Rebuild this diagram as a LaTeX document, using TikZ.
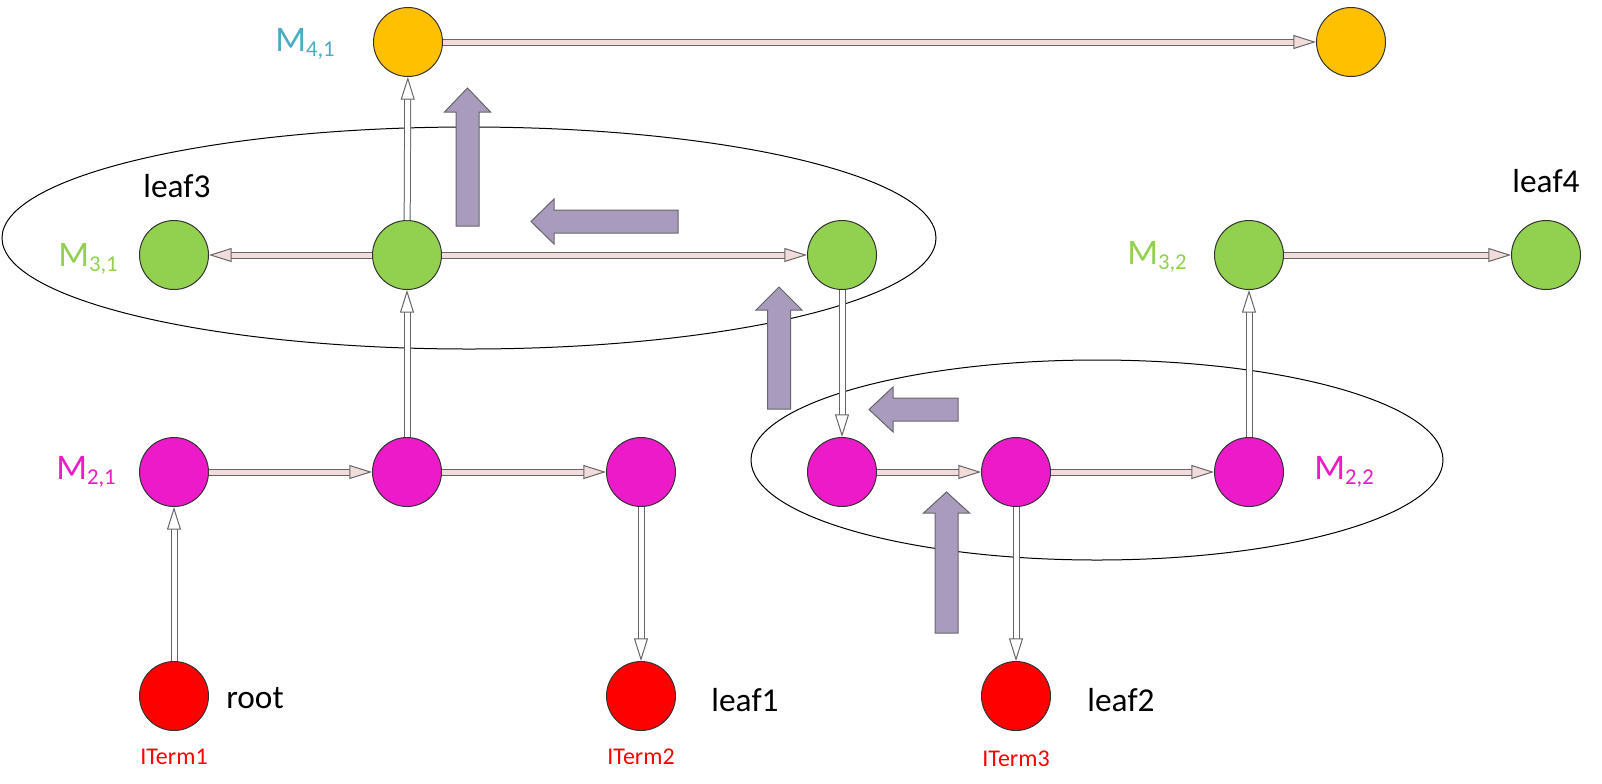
\documentclass[tikz,border=0pt]{standalone}
\usepackage{fontspec}
\setmainfont{Carlito}
\usetikzlibrary{arrows.meta, positioning}
\definecolor{gold}{HTML}{FFC000}
\definecolor{leafgreen}{HTML}{92D050}
\definecolor{mag}{HTML}{EC1AC8}
\definecolor{lav}{HTML}{A99BBD}
\definecolor{rose}{HTML}{F2DCDB}
\definecolor{mteal}{HTML}{4BACC6}
\newcommand\msub[1]{\raisebox{-0.3ex}{\fontsize{17}{20}\selectfont #1}}
\tikzset{
x=0.75pt, y=-0.75pt, % one unit is one pixel of the sketch
vertex/.style={circle, draw=black!80, line width=0.75pt, minimum size=51.75pt, inner sep=0pt}, % every round node
link/.style={draw=black!60, line width=0.75pt, double=#1, double distance=3.75pt, -{Triangle[open, fill=#1, length=17pt, width=10.5pt]}}, % hollow connector
link/.default=rose,
bigarrow/.style={fill=lav, draw=black!60, line width=0.75pt}, % fat arrows
lbl/.style={font=\fontsize{25}{30}\selectfont},
mlbl/.style={font=\fontsize{27}{32}\selectfont, inner sep=0pt},
term/.style={font=\fontsize{18}{21}\selectfont, text=red},
}
\begin{document}
\begin{tikzpicture}
    \useasboundingbox (0,0) rectangle (1602,783);
    % groups
    \draw[line width=0.75pt] (469,238) ellipse [x radius=467, y radius=111];
    \draw[line width=0.75pt] (1097,460) ellipse [x radius=346, y radius=100];
    % fat arrows
    \draw[bigarrow] (456,226) -- (456,112) -- (444.5,112) -- (467.5,88) -- (490.5,112) -- (479,112) -- (479,226) -- cycle;
    \draw[bigarrow] (678,210) -- (554,210) -- (554,199) -- (531,221.5) -- (554,244) -- (554,233) -- (678,233) -- cycle;
    \draw[bigarrow] (767.5,409) -- (767.5,310) -- (756,310) -- (779,287) -- (802,310) -- (790.5,310) -- (790.5,409) -- cycle;
    \draw[bigarrow] (958,398) -- (893,398) -- (893,387) -- (869,409.5) -- (893,432) -- (893,421) -- (958,421) -- cycle;
    \draw[bigarrow] (935,633) -- (935,513) -- (923.5,513) -- (946.5,492) -- (969.5,513) -- (958,513) -- (958,633) -- cycle;

    \node[vertex, fill=gold] (o1) at (408,42) {};
    \node[vertex, fill=gold] (o2) at (1351,42) {};
    \node[vertex, fill=leafgreen] (g1) at (174,255) {};
    \node[vertex, fill=leafgreen] (g2) at (407,255) {};
    \node[vertex, fill=leafgreen] (g3) at (842,255) {};
    \node[vertex, fill=leafgreen] (g4) at (1249,255) {};
    \node[vertex, fill=leafgreen] (g5) at (1546,255) {};
    \node[vertex, fill=mag] (m1) at (174,472) {};
    \node[vertex, fill=mag] (m2) at (407,472) {};
    \node[vertex, fill=mag] (m3) at (641,472) {};
    \node[vertex, fill=mag] (m4) at (842,472) {};
    \node[vertex, fill=mag] (m5) at (1016,472) {};
    \node[vertex, fill=mag] (m6) at (1249,472) {};
    \node[vertex, fill=red] (r1) at (174,696) {};
    \node[vertex, fill=red] (r2) at (641,696) {};
    \node[vertex, fill=red] (r3) at (1016,696) {};

    \node[mlbl, text=mteal] (l41) at (305,44) {M\msub{4,1}};
    \node[mlbl, text=leafgreen] (l31) at (88,259) {M\msub{3,1}};
    \node[mlbl, text=leafgreen] (l32) at (1157,257) {M\msub{3,2}};
    \node[mlbl, text=mag] (l21) at (86,472) {M\msub{2,1}};
    \node[mlbl, text=mag] (l22) at (1344,472) {M\msub{2,2}};
    \node[lbl] (leaf3) at (177,186) {leaf3};
    \node[lbl] (leaf4) at (1546,181) {leaf4};
    \node[lbl] (root) at (255,698) {root};
    \node[lbl] (leaf1) at (745,700) {leaf1};
    \node[lbl] (leaf2) at (1121,700) {leaf2};
    \node[term] (t1) at (174,757) {ITerm1};
    \node[term] (t2) at (641,757) {ITerm2};
    \node[term] (t3) at (1016,759) {ITerm3};

    \draw[link] (o1) -- (o2);
    \draw[link] (g2) -- (g1);
    \draw[link] (g2) -- (g3);
    \draw[link] (g4) -- (g5);
    \draw[link] (m1) -- (m2);
    \draw[link] (m2) -- (m3);
    \draw[link] (m4) -- (m5);
    \draw[link] (m5) -- (m6);
    \draw[link=white] (r1) -- (m1);
    \draw[link=white] (m2) -- (g2);
    \draw[link=white] (g2) -- (o1);
    \draw[link=white] (m3) -- (r2);
    \draw[link=white] (g3) -- (m4);
    \draw[link=white] (m5) -- (r3);
    \draw[link=white] (m6) -- (g4);
\end{tikzpicture}
\end{document}
